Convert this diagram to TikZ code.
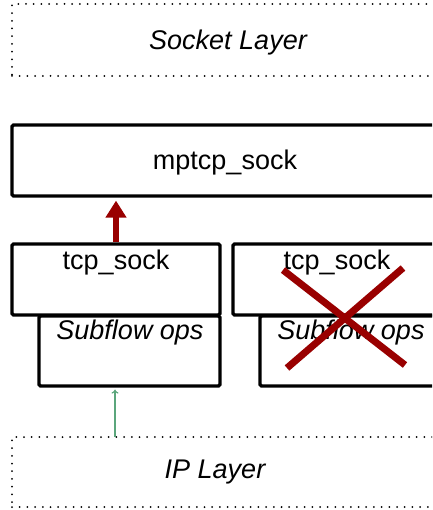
\documentclass[tikz,border=0pt]{standalone}
\usepackage{fontspec}
\setmainfont{Liberation Sans}
\usetikzlibrary{arrows.meta}
\definecolor{xred}{HTML}{990000}
\definecolor{ipgreen}{HTML}{5BA67C}
\begin{document}
\begin{tikzpicture}[x=1pt,y=-1pt,
  solidbox/.style={draw=black, line width=3.2pt, rounded corners=1.5pt, fill=white, inner sep=0pt},
  layerbox/.style={draw=black, line width=2pt, dash pattern=on 0pt off 7.7pt, line cap=round, inner sep=0pt},
  lbl/.style={font=\fontsize{27}{30}\selectfont, inner sep=0pt},
  ilbl/.style={font=\fontsize{27}{30}\selectfont\itshape, inner sep=0pt}]
\useasboundingbox (0,0) rectangle (432,510);
\clip (0,0) rectangle (432,510);

% layers
\node[layerbox, minimum width=433pt, minimum height=72pt] (socket) at (228.5,40) {};
\node[layerbox, minimum width=433pt, minimum height=70pt] (ip) at (228.5,472) {};
\node[ilbl] (socketlbl) at (228,42.5) {Socket Layer};
\node[ilbl] (iplbl) at (215,472.5) {IP Layer};

% meta socket
\node[solidbox, minimum width=433pt, minimum height=71pt] (mptcp) at (228.5,160.5) {};
\node[lbl] (mptcplbl) at (225,163) {mptcp\_sock};

% subflows
\node[solidbox, minimum width=181pt, minimum height=70pt] (sub1) at (129.5,351) {};
\node[solidbox, minimum width=185pt, minimum height=70pt] (sub2) at (352.5,351) {};
\node[solidbox, minimum width=208pt, minimum height=71pt] (tcp1) at (116,279.5) {};
\node[solidbox, minimum width=212pt, minimum height=71pt] (tcp2) at (339,279.5) {};
\node[lbl] (tcp1lbl) at (116,263) {tcp\_sock};
\node[lbl] (tcp2lbl) at (337,263) {tcp\_sock};
\node[ilbl] (sub1lbl) at (130,332.5) {Subflow ops};
\node[ilbl] (sub2lbl) at (351,332.5) {Subflow ops};

% connectors
\draw[xred, line width=6pt, -{Triangle[width=20pt,length=17pt]}, shorten >=3pt]
  (tcp1.north) -- (tcp1.north |- mptcp.south);
\coordinate (ipin) at (115,437);
\draw[ipgreen, line width=1.2pt, -{To[length=4pt,width=7pt]}, shorten >=2pt]
  (ipin) -- (ipin |- sub1.south);

% removed subflow
\draw[xred, line width=7pt] (283,270) -- (405,365);
\draw[xred, line width=7pt] (403,268) -- (287,368);
\end{tikzpicture}
\end{document}
